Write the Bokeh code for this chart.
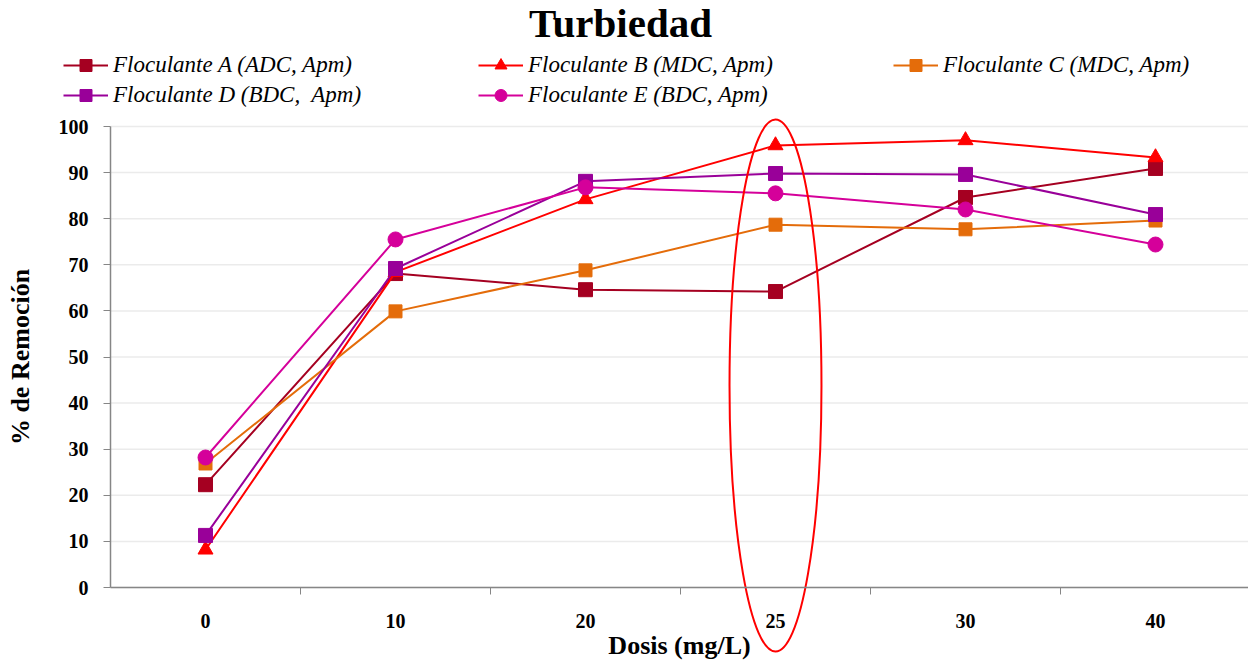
from bokeh.plotting import figure
from bokeh.models import Legend, LegendItem, FixedTicker, Label, Range1d
from bokeh.embed import file_html
from bokeh.resources import INLINE

# ---- data ----
doses = ["0", "10", "20", "25", "30", "40"]
names = ["Floculante A (ADC, Apm)", "Floculante B (MDC, Apm)", "Floculante C (MDC, Apm)",
         "Floculante D (BDC,  Apm)", "Floculante E (BDC, Apm)"]
values_a = [22.3, 68.1, 64.6, 64.2, 84.6, 90.9]
values_b = [8.2, 68.4, 84.2, 95.9, 97.0, 93.3]
values_c = [26.9, 59.9, 68.8, 78.7, 77.7, 79.6]
values_d = [11.3, 69.2, 88.1, 89.8, 89.6, 80.9]
values_e = [28.2, 75.5, 86.8, 85.5, 82.0, 74.4]
y_ticks = [0, 10, 20, 30, 40, 50, 60, 70, 80, 90, 100]
highlight_dose = "25"

colors = ["#A50021", "#FF0000", "#E46C0A", "#990099", "#D5009A"]
markers = ["square", "triangle", "square", "square", "circle"]
sizes = [14, 15, 13, 14, 15]
all_values = [values_a, values_b, values_c, values_d, values_e]

xi = list(range(len(doses)))
SERIF = "Liberation Serif"

# frame covers the whole canvas; axes are pinned inside it
W, H = 1248, 663
X0_PX, CAT_PX = 110, 190          # plot-area left edge and category width in pixels
Y0_PX, Y_PX = 587, 4.61           # pixel of y=0 and pixels per y unit
x_start = -0.5 - X0_PX / CAT_PX
x_end = -0.5 + (W - X0_PX) / CAT_PX
y_start = -(H - Y0_PX) / Y_PX
y_end = Y0_PX / Y_PX

p = figure(width=W, height=H, output_backend="svg", toolbar_location=None,
           x_range=Range1d(x_start, x_end), y_range=Range1d(y_start, y_end),
           min_border=0, min_border_left=0, min_border_right=0, min_border_top=0, min_border_bottom=0)
p.outline_line_color = None
p.background_fill_color = "white"
p.border_fill_color = "white"
p.xgrid.grid_line_color = None
p.ygrid.grid_line_color = None

# horizontal grid lines across the plot area only
p.segment(x0=[-0.5] * len(y_ticks), x1=[x_end] * len(y_ticks), y0=y_ticks, y1=y_ticks,
          line_color="#EBEBEB", line_width=1.5)

# x axis pinned at y = 0
xa = p.xaxis[0]
xa.fixed_location = 0
xa.bounds = (-0.5, x_end)
xa.ticker = FixedTicker(ticks=xi, minor_ticks=[i + 0.5 for i in xi[:-1]])
xa.major_label_overrides = {i: d for i, d in zip(xi, doses)}
xa.major_tick_line_color = None
xa.major_tick_out = 0
xa.major_tick_in = 0
xa.minor_tick_line_color = "#868686"
xa.minor_tick_out = 7
xa.minor_tick_in = 0
xa.major_label_standoff = 19
xa.axis_label = "Dosis (mg/L)"
xa.axis_label_standoff = 0

# y axis pinned at the left edge of the plot area
ya = p.yaxis[0]
ya.fixed_location = -0.5
ya.bounds = (0, 100)
ya.ticker = FixedTicker(ticks=y_ticks)
ya.minor_tick_line_color = None
ya.major_tick_line_color = "#868686"
ya.major_tick_out = 7
ya.major_tick_in = 0
ya.major_label_standoff = 15
ya.axis_label = "% de Remoción"
ya.axis_label_standoff = 21

for ax in (xa, ya):
    ax.axis_line_color = "#868686"
    ax.axis_line_width = 1.5
    ax.major_label_text_font = SERIF
    ax.major_label_text_font_style = "bold"
    ax.major_label_text_font_size = "20px"
    ax.major_label_text_color = "black"
    ax.axis_label_text_font = SERIF
    ax.axis_label_text_font_style = "bold"
    ax.axis_label_text_font_size = "26px"
    ax.axis_label_text_color = "black"

items = []
for name, vals, col, mk, sz in zip(names, all_values, colors, markers, sizes):
    r_line = p.line(xi, vals, line_color=col, line_width=2)
    r_pts = p.scatter(xi, vals, marker=mk, size=sz, fill_color=col, line_color=col)
    items.append(LegendItem(label=name, renderers=[r_line, r_pts]))

# highlight ellipse around dose 25
hx = doses.index(highlight_dose)
p.ellipse(x=hx, y=43.8, width=0.484, height=115.4, fill_alpha=0,
          line_color="#FF0000", line_width=2)

# legend (two rows of three columns, above the plot area)
legend = Legend(items=items, orientation="horizontal", ncols=3, location=(63, H - 110),
                glyph_width=45, glyph_height=30, label_standoff=5, label_width=365, label_height=30,
                spacing=0, padding=0, margin=0, border_line_color=None, background_fill_alpha=0,
                label_text_font=SERIF, label_text_font_style="italic", label_text_font_size="23px",
                label_text_color="black")
p.add_layout(legend, "center")

# title
p.add_layout(Label(x=x_start + 620 / CAT_PX, y=(Y0_PX - 22) / Y_PX, text="Turbiedad",
                   text_align="center", text_baseline="middle",
                   text_font=SERIF, text_font_style="bold", text_font_size="41px", text_color="black"))

open("out.html", "w").write(file_html(p, INLINE))
